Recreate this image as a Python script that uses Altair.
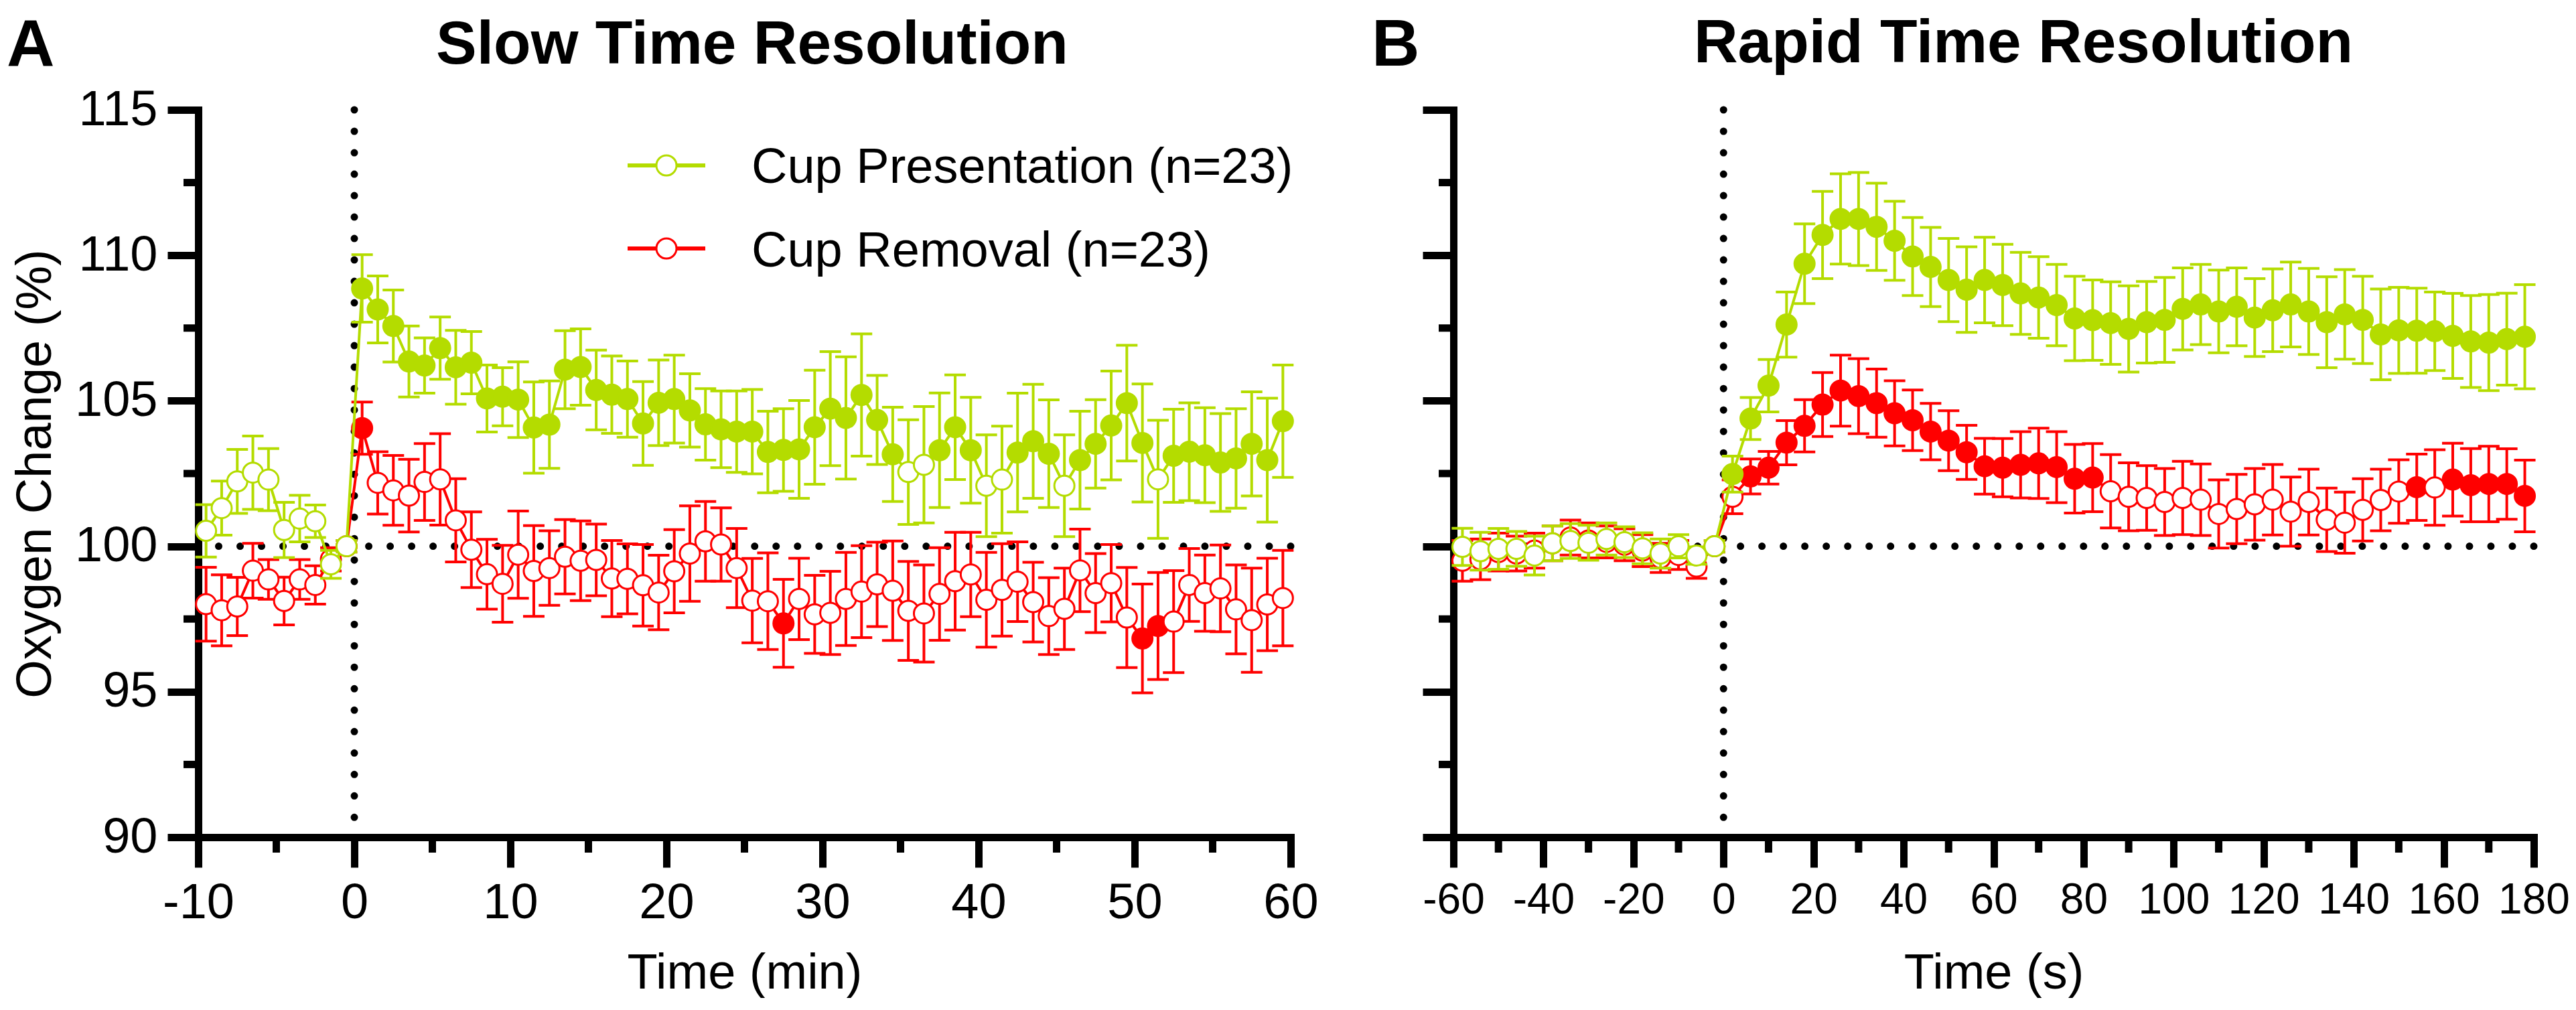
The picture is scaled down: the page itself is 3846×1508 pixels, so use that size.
import altair as alt
import pandas as pd

GREEN = "#B4DC00"
RED = "#FF0000"
FONT = "Liberation Sans"

# ---------------- Panel A : slow time resolution (minutes) ----------------
A_TIME = [-9.5, -8.5, -7.5, -6.5, -5.5, -4.5, -3.5, -2.5, -1.5, -0.5,
          0.5, 1.5, 2.5, 3.5, 4.5, 5.5, 6.5, 7.5, 8.5, 9.5,
          10.5, 11.5, 12.5, 13.5, 14.5, 15.5, 16.5, 17.5, 18.5, 19.5,
          20.5, 21.5, 22.5, 23.5, 24.5, 25.5, 26.5, 27.5, 28.5, 29.5,
          30.5, 31.5, 32.5, 33.5, 34.5, 35.5, 36.5, 37.5, 38.5, 39.5,
          40.5, 41.5, 42.5, 43.5, 44.5, 45.5, 46.5, 47.5, 48.5, 49.5,
          50.5, 51.5, 52.5, 53.5, 54.5, 55.5, 56.5, 57.5, 58.5, 59.5]

A_PRES_MEAN = [100.53, 101.31, 102.23, 102.53, 102.29, 100.56, 100.95, 100.86, 99.38, 100.0,
               108.86, 108.14, 107.57, 106.35, 106.21, 106.81, 106.15, 106.31, 105.08, 105.14,
               105.04, 104.08, 104.18, 106.07, 106.16, 105.37, 105.21, 105.06, 104.22, 104.93,
               105.06, 104.67, 104.19, 104.02, 103.94, 103.94, 103.24, 103.31, 103.33, 104.09,
               104.73, 104.41, 105.2, 104.34, 103.16, 102.55, 102.8, 103.3, 104.09, 103.3,
               102.08, 102.29, 103.22, 103.61, 103.18, 102.08, 102.96, 103.52, 104.15, 104.92,
               103.55, 102.3, 103.11, 103.25, 103.13, 102.88, 103.02, 103.52, 102.96, 104.3]
A_PRES_SEM = [0.9, 0.93, 1.1, 1.26, 1.07, 0.95, 0.8, 0.56, 0.48, 0.2,
              1.16, 1.15, 1.24, 1.22, 0.95, 1.07, 1.27, 1.07, 1.15, 1.0,
              1.3, 1.57, 1.5, 1.34, 1.31, 1.37, 1.33, 1.31, 1.44, 1.47,
              1.51, 1.26, 1.23, 1.32, 1.4, 1.45, 1.4, 1.42, 1.68, 1.96,
              1.96, 2.1, 2.1, 1.53, 1.62, 1.8, 2.0, 1.97, 1.8, 1.82,
              1.75, 1.84, 2.04, 1.96, 1.85, 1.75, 1.68, 1.52, 1.87, 1.99,
              2.03, 2.03, 1.6, 1.68, 1.63, 1.68, 1.71, 1.79, 2.13, 1.93]
A_PRES_SIG = [0, 0, 0, 0, 0, 0, 0, 0, 0, 0,
              1, 1, 1, 1, 1, 1, 1, 1, 1, 1,
              1, 1, 1, 1, 1, 1, 1, 1, 1, 1,
              1, 1, 1, 1, 1, 1, 1, 1, 1, 1,
              1, 1, 1, 1, 1, 0, 0, 1, 1, 1,
              0, 0, 1, 1, 1, 0, 1, 1, 1, 1,
              1, 0, 1, 1, 1, 1, 1, 1, 1, 1]

A_REM_MEAN = [98.01, 97.80, 97.93, 99.16, 98.86, 98.12, 98.86, 98.67, 99.55, 100.0,
              104.06, 102.18, 101.92, 101.74, 102.21, 102.3, 100.89, 99.88, 99.04, 98.71,
              99.71, 99.15, 99.25, 99.64, 99.5, 99.53, 98.89, 98.88, 98.66, 98.41,
              99.14, 99.75, 100.17, 100.06, 99.25, 98.13, 98.11, 97.35, 98.19, 97.66,
              97.71, 98.19, 98.44, 98.69, 98.47, 97.78, 97.69, 98.36, 98.8, 99.03,
              98.16, 98.5, 98.78, 98.08, 97.6, 97.85, 99.17, 98.39, 98.73, 97.55,
              96.83, 97.26, 97.41, 98.67, 98.39, 98.55, 97.83, 97.46, 98.0, 98.22]
A_REM_SEM = [1.27, 1.22, 1.0, 0.94, 0.68, 0.82, 0.68, 0.66, 0.4, 0.2,
             0.9, 1.07, 1.2, 1.25, 1.32, 1.57, 1.43, 1.3, 1.2, 1.32,
             1.5, 1.56, 1.28, 1.28, 1.37, 1.23, 1.31, 1.2, 1.4, 1.28,
             1.43, 1.64, 1.37, 1.26, 1.36, 1.45, 1.66, 1.51, 1.4, 1.34,
             1.43, 1.6, 1.58, 1.45, 1.71, 1.7, 1.67, 1.59, 1.68, 1.45,
             1.63, 1.59, 1.37, 1.37, 1.32, 1.4, 1.42, 1.36, 1.33, 1.72,
             1.87, 1.84, 1.75, 1.25, 1.31, 1.49, 1.53, 1.79, 1.59, 1.64]
A_REM_SIG = [0, 0, 0, 0, 0, 0, 0, 0, 0, 0,
             1, 0, 0, 0, 0, 0, 0, 0, 0, 0,
             0, 0, 0, 0, 0, 0, 0, 0, 0, 0,
             0, 0, 0, 0, 0, 0, 0, 1, 0, 0,
             0, 0, 0, 0, 0, 0, 0, 0, 0, 0,
             0, 0, 0, 0, 0, 0, 0, 0, 0, 0,
             1, 1, 0, 0, 0, 0, 0, 0, 0, 0]

A_X_MAJOR = [-10, 0, 10, 20, 30, 40, 50, 60]
A_X_MINOR = [-5, 5, 15, 25, 35, 45, 55]

# ---------------- Panel B : rapid time resolution (seconds) ----------------
B_TIME = [-58, -54, -50, -46, -42, -38, -34, -30, -26, -22, -18, -14, -10, -6, -2,
          2, 6, 10, 14, 18, 22, 26, 30, 34, 38, 42, 46, 50, 54, 58,
          62, 66, 70, 74, 78, 82, 86, 90, 94, 98, 102, 106, 110, 114, 118,
          122, 126, 130, 134, 138, 142, 146, 150, 154, 158, 162, 166, 170, 174, 178]

B_PRES_MEAN = [99.98, 99.83, 99.91, 99.91, 99.68, 100.1, 100.18, 100.12, 100.25, 100.14, 99.93, 99.75, 100.0, 99.68, 100.0,
               102.48, 104.39, 105.52, 107.62, 109.71, 110.7, 111.25, 111.25, 110.98, 110.5, 109.96, 109.6, 109.15, 108.82, 109.15,
               108.98, 108.69, 108.55, 108.29, 107.83, 107.77, 107.67, 107.47, 107.7, 107.78, 108.16, 108.31, 108.07, 108.23, 107.86,
               108.11, 108.31, 108.07, 107.7, 107.97, 107.78, 107.28, 107.42, 107.41, 107.39, 107.23, 107.04, 107.0, 107.12, 107.2]
B_PRES_SEM = [0.64, 0.65, 0.7, 0.6, 0.67, 0.6, 0.6, 0.6, 0.55, 0.53, 0.53, 0.5, 0.4, 0.3, 0.2,
              0.62, 0.72, 0.9, 1.12, 1.37, 1.5, 1.55, 1.6, 1.5, 1.36, 1.34, 1.36, 1.43, 1.47, 1.47,
              1.4, 1.41, 1.4, 1.4, 1.45, 1.38, 1.42, 1.48, 1.4, 1.46, 1.41, 1.38, 1.42, 1.34, 1.34,
              1.42, 1.46, 1.48, 1.56, 1.54, 1.5, 1.56, 1.48, 1.46, 1.35, 1.46, 1.58, 1.65, 1.58, 1.79]
B_PRES_SIG = [0, 0, 0, 0, 0, 0, 0, 0, 0, 0, 0, 0, 0, 0, 0,
              1, 1, 1, 1, 1, 1, 1, 1, 1, 1, 1, 1, 1, 1, 1,
              1, 1, 1, 1, 1, 1, 1, 1, 1, 1, 1, 1, 1, 1, 1,
              1, 1, 1, 1, 1, 1, 1, 1, 1, 1, 1, 1, 1, 1, 1]

B_REM_MEAN = [99.5, 99.55, 99.8, 99.75, 99.85, 100.1, 100.3, 100.2, 100.15, 100.05, 99.85, 99.6, 99.7, 99.3, 100.0,
              101.7, 102.4, 102.7, 103.56, 104.14, 104.87, 105.35, 105.16, 104.92, 104.57, 104.33, 103.94, 103.63, 103.23, 102.75,
              102.7, 102.8, 102.85, 102.72, 102.32, 102.36, 101.89, 101.7, 101.66, 101.52, 101.66, 101.6, 101.11, 101.28, 101.44,
              101.6, 101.19, 101.52, 100.91, 100.81, 101.25, 101.59, 101.88, 102.03, 102.02, 102.29, 102.1, 102.14, 102.14, 101.73]
B_REM_SEM = [0.7, 0.7, 0.65, 0.6, 0.6, 0.6, 0.6, 0.6, 0.55, 0.55, 0.55, 0.5, 0.5, 0.4, 0.2,
             0.58, 0.6, 0.56, 0.76, 0.9, 1.1, 1.22, 1.29, 1.17, 1.12, 1.04, 0.97, 1.03, 0.93, 0.96,
             1.0, 1.14, 1.21, 1.22, 1.18, 1.17, 1.26, 1.17, 1.11, 1.15, 1.26, 1.23, 1.17, 1.19, 1.23,
             1.21, 1.19, 1.13, 1.09, 1.05, 1.07, 1.06, 1.09, 1.14, 1.3, 1.25, 1.26, 1.3, 1.21, 1.23]
B_REM_SIG = [0, 0, 0, 0, 0, 0, 0, 0, 0, 0, 0, 0, 0, 0, 0,
             0, 1, 1, 1, 1, 1, 1, 1, 1, 1, 1, 1, 1, 1, 1,
             1, 1, 1, 1, 1, 1, 0, 0, 0, 0, 0, 0, 0, 0, 0,
             0, 0, 0, 0, 0, 0, 0, 0, 1, 0, 1, 1, 1, 1, 1]

B_X_MAJOR = [-60, -40, -20, 0, 20, 40, 60, 80, 100, 120, 140, 160, 180]
B_X_MINOR = [-50, -30, -10, 10, 30, 50, 70, 90, 110, 130, 150, 170]

Y_MAJOR = [90, 95, 100, 105, 110, 115]
Y_MINOR = [92.5, 97.5, 102.5, 107.5, 112.5]

SERIES = ["Cup Presentation (n=23)", "Cup Removal (n=23)"]
PANEL_TITLES = ["Slow Time Resolution", "Rapid Time Resolution"]
PANEL_LETTERS = ["A", "B"]


def frame(t, m, s, sig):
    return pd.DataFrame({
        "t": t, "m": m,
        "lo": [a - b for a, b in zip(m, s)],
        "hi": [a + b for a, b in zip(m, s)],
        "sig": sig,
    })


H = 1086


def panel(width, xdom, xmaj, xmin, xtitle, x_label_size, pres, rem,
          letter, title, title_x, title_y, letter_x, letter_y, with_y_labels, legend):
    xscale = alt.Scale(domain=xdom, nice=False, zero=False)
    yscale = alt.Scale(domain=[90, 115], nice=False, zero=False)
    xaxis = alt.Axis(values=xmaj, tickSize=45, labelPadding=17, labelFontSize=x_label_size,
                     labelExpr="'' + datum.value", title=xtitle, titleY=225,
                     titleBaseline="alphabetic", labelFlush=False, labelOverlap=False)
    if with_y_labels:
        yaxis = alt.Axis(values=Y_MAJOR, tickSize=46, labelPadding=15,
                         labelExpr="'' + datum.value", title="Oxygen Change (%)",
                         titleX=-221, titleY=H / 2, titleAngle=-90, titleBaseline="alphabetic",
                         titleAlign="center")
    else:
        yaxis = alt.Axis(values=Y_MAJOR, tickSize=46, labels=False, title=None)

    def X(f):
        return alt.X(f, type="quantitative", scale=xscale, axis=xaxis)

    def Y(f):
        return alt.Y(f, type="quantitative", scale=yscale, axis=yaxis)

    layers = []
    dots = dict(color="black", strokeWidth=11, strokeDash=[0.01, 32], strokeCap="round")
    layers.append(alt.Chart(pd.DataFrame({"v": [100]})).mark_rule(**dots).encode(y=Y("v")))
    layers.append(alt.Chart(pd.DataFrame({"v": [0]})).mark_rule(**dots).encode(x=X("v")))
    # minor ticks
    layers.append(alt.Chart(pd.DataFrame({"v": xmin})).mark_rule(color="black", strokeWidth=11).encode(
        x=X("v"), y=alt.value(H), y2=alt.value(H + 23)))
    layers.append(alt.Chart(pd.DataFrame({"v": Y_MINOR})).mark_rule(color="black", strokeWidth=11).encode(
        y=Y("v"), x=alt.value(0), x2=alt.value(-22)))

    for df, col in ((rem, RED), (pres, GREEN)):
        base = alt.Chart(df)
        layers.append(base.mark_rule(color=col, strokeWidth=4).encode(x=X("t"), y=Y("lo"), y2="hi"))
        layers.append(base.mark_tick(orient="horizontal", size=32, thickness=4, color=col, opacity=1)
                      .encode(x=X("t"), y=Y("lo")))
        layers.append(base.mark_tick(orient="horizontal", size=32, thickness=4, color=col, opacity=1)
                      .encode(x=X("t"), y=Y("hi")))
        layers.append(base.mark_line(color=col, strokeWidth=4).encode(x=X("t"), y=Y("m")))
        layers.append(base.mark_point(shape="circle", filled=True, size=900, opacity=1,
                                      stroke=col, strokeWidth=3).encode(
            x=X("t"), y=Y("m"),
            fill=alt.condition("datum.sig == 1", alt.value(col), alt.value("white"))))

    one = pd.DataFrame({"k": [0]})
    if legend:
        for name, col, ly, ty in ((SERIES[0], GREEN, 83, 109), (SERIES[1], RED, 207, 234)):
            layers.append(alt.Chart(one).mark_rule(color=col, strokeWidth=6).encode(
                x=alt.value(641), x2=alt.value(757), y=alt.value(ly)))
            layers.append(alt.Chart(one).mark_point(shape="circle", filled=True, size=900, opacity=1,
                                                    fill="white", stroke=col, strokeWidth=3).encode(
                x=alt.value(699), y=alt.value(ly)))
            layers.append(alt.Chart(one).mark_text(text=name, font=FONT, fontSize=74, align="left",
                                                   baseline="alphabetic", color="black").encode(
                x=alt.value(826), y=alt.value(ty)))

    layers.append(alt.Chart(one).mark_text(text=title, font=FONT, fontSize=91, fontWeight="bold",
                                           align="center", baseline="alphabetic", color="black").encode(
        x=alt.value(title_x), y=alt.value(title_y)))
    layers.append(alt.Chart(one).mark_text(text=letter, font=FONT, fontSize=99, fontWeight="bold",
                                           align="left", baseline="alphabetic", color="black").encode(
        x=alt.value(letter_x), y=alt.value(letter_y)))

    return alt.layer(*layers).properties(width=width, height=H)


pres_a = frame(A_TIME, A_PRES_MEAN, A_PRES_SEM, A_PRES_SIG)
rem_a = frame(A_TIME, A_REM_MEAN, A_REM_SEM, A_REM_SIG)
pres_b = frame(B_TIME, B_PRES_MEAN, B_PRES_SEM, B_PRES_SIG)
rem_b = frame(B_TIME, B_REM_MEAN, B_REM_SEM, B_REM_SIG)

panel_a = panel(1631, [-10, 60], A_X_MAJOR, A_X_MINOR, "Time (min)", 74, pres_a, rem_a,
                PANEL_LETTERS[0], PANEL_TITLES[0], 827, -69, -286, -66, True, True)
panel_b = panel(1613, [-60, 180], B_X_MAJOR, B_X_MINOR, "Time (s)", 64, pres_b, rem_b,
                PANEL_LETTERS[1], PANEL_TITLES[1], 851, -71, -122, -66, False, False)

chart = alt.hconcat(panel_a, panel_b, spacing=243, bounds="flush").properties(
    padding={"top": 11, "left": 2, "right": 0, "bottom": 0}
).configure_axis(
    domainColor="black", domainWidth=11, domainCap="square",
    tickColor="black", tickWidth=11, grid=False,
    labelFont=FONT, labelFontSize=74, labelColor="black",
    titleFont=FONT, titleFontSize=74, titleColor="black", titleFontWeight="normal",
).configure_view(strokeOpacity=0)

chart.save("out.html", embed_options={"renderer": "svg", "actions": False})
